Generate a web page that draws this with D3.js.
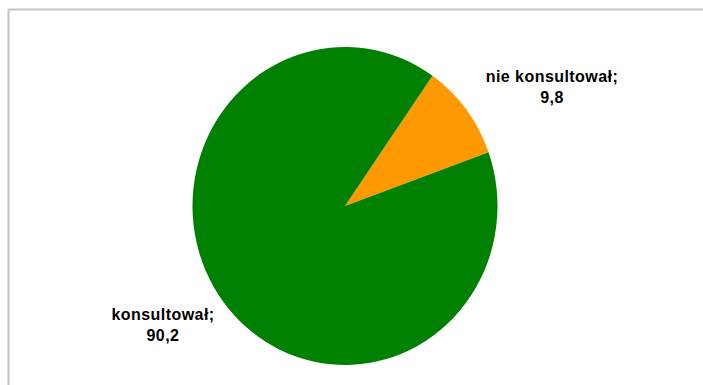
<!DOCTYPE html>
<html>
<head>
<meta charset="utf-8">
<script src="https://cdn.jsdelivr.net/npm/d3@7"></script>
<style>
html,body{margin:0;padding:0;background:#fff;}
svg{display:block;}
text{font-family:"Liberation Sans",Arial,sans-serif;font-weight:bold;font-size:16px;fill:#000;letter-spacing:0.45px;}
</style>
</head>
<body>
<svg id="chart" width="703" height="385"></svg>
<script>
const categories = ["nie konsultował", "konsultował"];
const values = [9.8, 90.2];
const valueLabels = ["9,8", "90,2"];
const colors = ["#FF9900", "#008000"];

const svg = d3.select("#chart");
const W = 703, H = 385;

// plot area border (top and left visible)
svg.append("line").attr("x1", 8.5).attr("x2", W).attr("y1", 9.5).attr("y2", 9.5)
  .attr("stroke", "#c4c4c4").attr("stroke-width", 2);
svg.append("line").attr("x1", 8.5).attr("x2", 8.5).attr("y1", 9.5).attr("y2", H)
  .attr("stroke", "#c4c4c4").attr("stroke-width", 2);

const cx = 345, cy = 206, ry = 159, rx = 152.5;
const startDeg = 35;

const pie = d3.pie().sort(null).value(d => d)
  .startAngle(startDeg * Math.PI / 180)
  .endAngle(startDeg * Math.PI / 180 + 2 * Math.PI);
const arcs = pie(values);
const arc = d3.arc().innerRadius(0).outerRadius(ry);

const g = svg.append("g").attr("transform", `translate(${cx},${cy}) scale(${rx / ry},1)`);
g.selectAll("path").data(arcs).enter().append("path")
  .attr("d", arc)
  .attr("fill", (d, i) => colors[i]);

// labels
const labelPos = [[552, 81.5], [163, 319.5]];
const lineGap = 21;
arcs.forEach((d, i) => {
  const t = svg.append("text").attr("text-anchor", "middle")
    .attr("x", labelPos[i][0]).attr("y", labelPos[i][1]);
  t.append("tspan").attr("x", labelPos[i][0]).text(categories[i] + ";");
  t.append("tspan").attr("x", labelPos[i][0]).attr("dy", lineGap).text(valueLabels[i]);
});
</script>
</body>
</html>
